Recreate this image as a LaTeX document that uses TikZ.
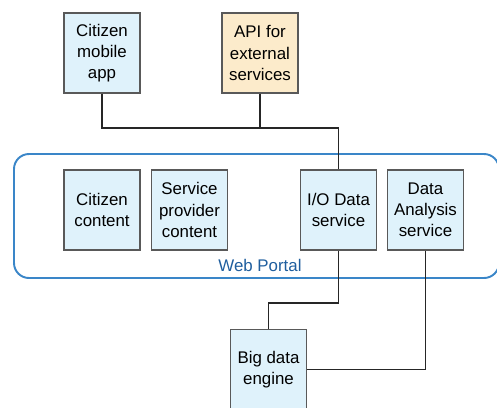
\documentclass[tikz,border=0pt]{standalone}
\usepackage{fontspec}
\setmainfont{Liberation Sans}
\usepackage{tikz}
\usetikzlibrary{calc}

\definecolor{boxblue}{HTML}{DFF2FB}
\definecolor{boxorange}{HTML}{FCEBCB}
\definecolor{portalline}{HTML}{3A86C8}
\definecolor{portaltext}{HTML}{1F5E9E}

\tikzset{
  unit/.style={draw=black!65, line width=0.6pt, fill=boxblue, minimum width=76*0.02cm,
    minimum height=80*0.02cm, align=center, inner sep=0pt,
    font=\fontsize{9.6}{12}\selectfont},
  link/.style={line width=1.1pt, black!85}
}

\begin{document}
\begin{tikzpicture}[x=0.02cm,y=-0.02cm]

	\useasboundingbox (0,0) rectangle (497,407);

	% web portal frame
	\draw[portalline, line width=1.1pt, rounded corners=15*0.02cm] (14,154) rectangle (499,278);
	\node[text=portaltext, font=\fontsize{9.6}{12}\selectfont] (portal) at (260,265) {Web Portal};

	% top row
	\node[unit] (mobile) at (102,53) {Citizen\\mobile\\app};
	\node[unit, fill=boxorange] (api) at (260,53) {API for\\external\\services};

	% portal services
	\node[unit] (citizen) at (102,210) {Citizen\\content};
	\node[unit] (provider) at (189.5,210) {Service\\provider\\content};
	\node[unit] (io) at (338.5,210) {I/O Data\\service};
	\node[unit] (analysis) at (425.5,210) {Data\\Analysis\\service};

	% back end
	\node[unit] (bigdata) at (268.5,369.5) {Big data\\engine};

	\coordinate (bus) at (0,128);
	\coordinate (drop) at (0,303);

	\draw[link] (mobile.south) |- (io.north |- bus) -- (io.north);
	\draw[link] (api.south) -- (api.south |- bus);
	\draw[link] (io.south) -- (io.south |- drop) -| (bigdata.north);
	\draw[link] (analysis.south) |- (bigdata.east);

\end{tikzpicture}
\end{document}
